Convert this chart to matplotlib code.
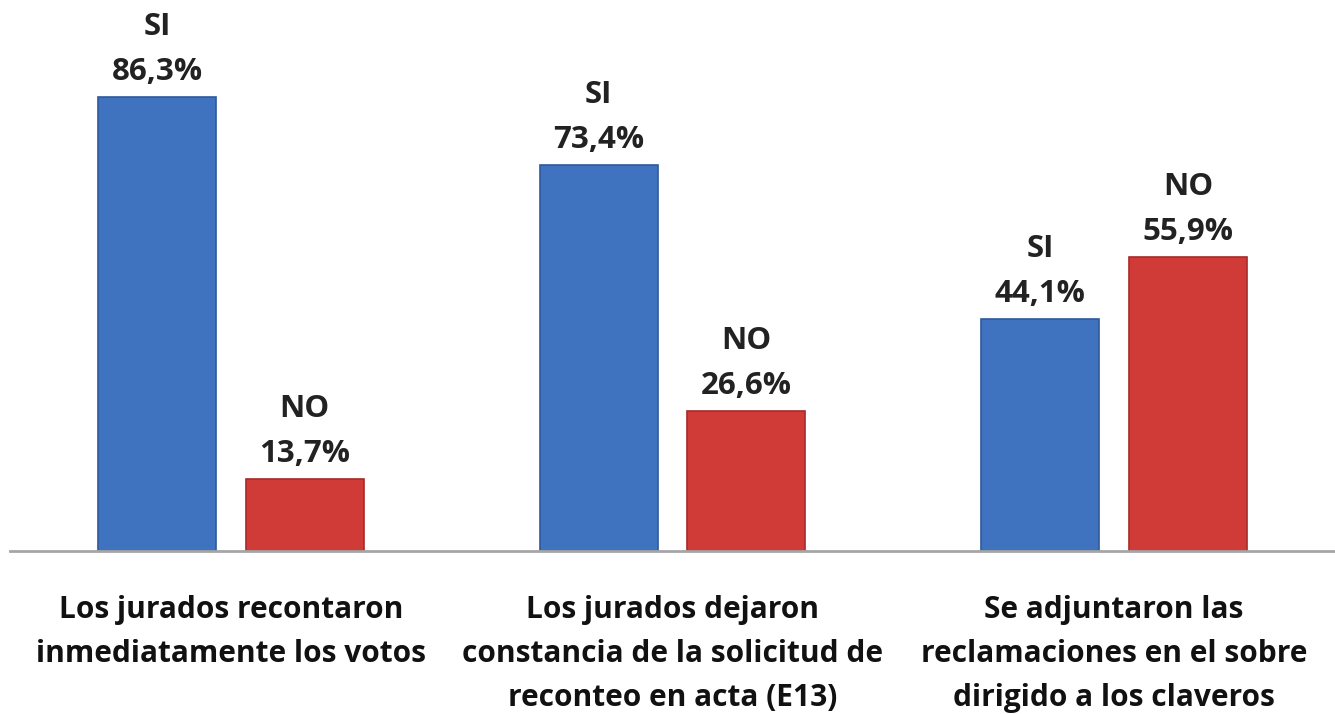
import matplotlib.pyplot as plt
import numpy as np

categories = ['Los jurados recontaron\ninmediatamente los votos',
              'Los jurados dejaron\nconstancia de la solicitud de\nreconteo en acta (E13)',
              'Se adjuntaron las\nreclamaciones en el sobre\ndirigido a los claveros']
si_values = [86.3, 73.4, 44.1]
no_values = [13.7, 26.6, 55.9]

plt.rcParams['font.family'] = ['Open Sans', 'DejaVu Sans']

fig = plt.figure(figsize=(13.35, 7.14), dpi=100)
ax = fig.add_axes([10 / 1335, 163 / 714, 1325 / 1335, 551 / 714])

x = np.arange(len(categories))
w = 0.267
off = 0.167

bars_si = ax.bar(x - off, si_values, w, color='#3f72bf', edgecolor='#2f5a9a', linewidth=1.2)
bars_no = ax.bar(x + off, no_values, w, color='#d03b37', edgecolor='#a82a27', linewidth=1.2)

def fmt(v):
    return f'{v:.1f}'.replace('.', ',') + '%'

for b, v in zip(bars_si, si_values):
    ax.annotate('SI\n' + fmt(v), (b.get_x() + b.get_width() / 2, v),
                xytext=(0, 7), textcoords='offset points', ha='center', va='bottom',
                fontsize=22.5, fontweight='bold', color='#222222', linespacing=1.65)
for b, v in zip(bars_no, no_values):
    ax.annotate('NO\n' + fmt(v), (b.get_x() + b.get_width() / 2, v),
                xytext=(0, 7), textcoords='offset points', ha='center', va='bottom',
                fontsize=22.5, fontweight='bold', color='#222222', linespacing=1.65)

ax.set_xlim(-0.5, 2.5)
ax.set_ylim(0, 104.7)
ax.set_xticks(x)
ax.set_xticklabels(categories, fontsize=21.5, fontweight='bold', color='#111111', linespacing=1.6, va='top')
ax.tick_params(axis='x', length=0, pad=32)
ax.set_yticks([])
for s in ['top', 'right', 'left']:
    ax.spines[s].set_visible(False)
ax.spines['bottom'].set_color('#a6a6a6')
ax.spines['bottom'].set_linewidth(2)

plt.savefig('out.png', dpi=100)
